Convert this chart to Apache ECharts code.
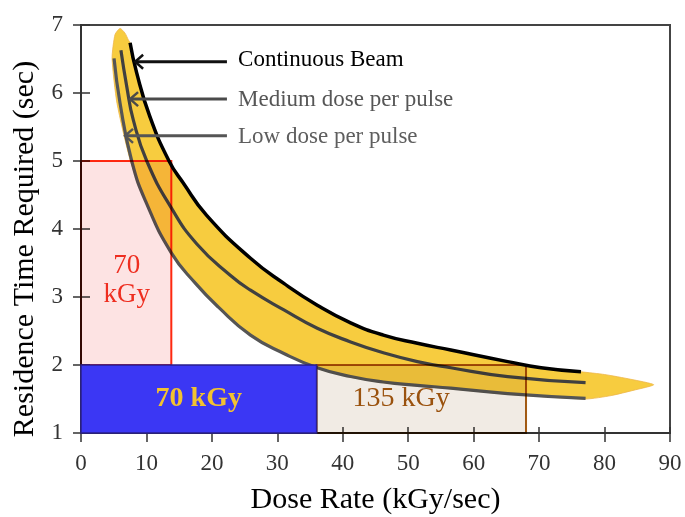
<!DOCTYPE html>
<html><head><meta charset="utf-8">
<script src="https://cdn.jsdelivr.net/npm/echarts@6/dist/echarts.min.js"></script>
<style>html,body{margin:0;padding:0;background:#fff}#c{width:685px;height:517px}</style>
</head><body><div id="c"></div>
<script>
// ---- data ----
const beamX = [7.5, 8.5, 10.5, 13.45, 15.6, 19.2, 25.9, 31.0, 36.1, 41.2, 46.2, 51.4, 56.5, 65.2, 70.3, 76.4];
const beamY = [6.74, 6.30, 5.66, 5.0, 4.68, 4.20, 3.57, 3.20, 2.88, 2.62, 2.44, 2.32, 2.22, 2.05, 1.96, 1.90];

const mediumX = [6.1, 7.0, 8.0, 10.05, 13.8, 17.7, 22.8, 25.9, 31.0, 36.1, 41.2, 46.2, 51.4, 56.5, 65.2, 77.1];
const mediumY = [6.63, 6.09, 5.60, 5.0, 4.31, 3.78, 3.32, 3.10, 2.81, 2.54, 2.34, 2.18, 2.05, 1.96, 1.83, 1.74];

const lowX = [5.05, 5.97, 7.75, 10.0, 13.8, 17.5, 21.0, 25.9, 31.0, 36.1, 41.2, 46.2, 51.4, 56.5, 65.2, 77.1];
const lowY = [6.51, 5.85, 5.0, 4.38, 3.65, 3.2, 2.85, 2.44, 2.17, 1.96, 1.83, 1.75, 1.70, 1.66, 1.58, 1.51];

// yellow envelope (upper and lower edges, left to right, sharing both tips)
const bandUpperX = [5.97, 6.73, 7.24, 7.5, 8.5, 10.5, 13.45, 15.6, 19.2, 25.9, 31.0, 36.1, 41.2, 46.2, 51.4, 56.5, 65.2, 70.3, 76.4, 80.0, 84.0, 87.5];
const bandUpperY = [6.95, 6.88, 6.78, 6.74, 6.30, 5.66, 5.0, 4.68, 4.20, 3.57, 3.20, 2.88, 2.62, 2.44, 2.32, 2.22, 2.05, 1.96, 1.90, 1.86, 1.79, 1.71];
const bandLowerX = [5.97, 5.2, 4.75, 5.5, 7.55, 10.0, 13.8, 17.5, 21.0, 25.9, 31.0, 36.1, 41.2, 46.2, 51.4, 56.5, 65.2, 77.1, 81.0, 84.5, 87.5];
const bandLowerY = [6.95, 6.86, 6.51, 5.85, 5.0, 4.36, 3.64, 3.19, 2.84, 2.43, 2.16, 1.95, 1.82, 1.74, 1.69, 1.65, 1.57, 1.50, 1.55, 1.63, 1.71];

// shaded dose boxes
const boxX0 = [0, 0, 36];
const boxX1 = [13.8, 36, 68];
const boxY0 = [2, 1, 1];
const boxY1 = [5, 2, 2];
const boxLabels = ['70\nkGy', '70 kGy', '135 kGy'];
const boxLabelX = [7.0, 18.0, 48.9];
const boxLabelY = [3.25, 1.5, 1.5];

// arrow annotations
const noteTexts = ['Continuous Beam', 'Medium dose per pulse', 'Low dose per pulse'];
const noteX = [24.0, 24.0, 24.0];
const noteY = [6.48, 5.90, 5.36];
const arrowFromX = [22.3, 22.3, 22.3];
const arrowToX = [8.27, 7.5, 6.73];
const arrowY = [6.46, 5.91, 5.37];

// ---- chart ----
const SERIF = "'Liberation Serif','Times New Roman',serif";
const chart = echarts.init(document.getElementById('c'), null, {renderer: 'canvas'});
const pairs = (xs, ys) => xs.map((x, i) => [x, ys[i]]);

const boxStyles = [
  {fill: '#fde3e3', stroke: '#ff2a10', lineWidth: 2},
  {fill: '#3b37f4', stroke: '#2a1f8c', lineWidth: 1.5},
  {fill: '#f1ebe4', stroke: '#a65c12', lineWidth: 2}
];
const boxLabelStyles = [
  {fill: '#ee2e20', fontSize: 27, fontWeight: 'normal', lineHeight: 29},
  {fill: '#f2c230', fontSize: 28, fontWeight: 'bold', lineHeight: 30},
  {fill: '#9a520e', fontSize: 28, fontWeight: 'normal', lineHeight: 30}
];
const noteColors = ['#000000', '#565656', '#5e5e5e'];
const arrowColors = ['#111111', '#4a4a4a', '#555555'];

function boxSeries(indices, blend, z) {
  const s = {
    type: 'custom', coordinateSystem: 'cartesian2d', z: z, silent: true,
    data: indices.map(i => [boxX0[i], boxX1[i], boxY0[i], boxY1[i], i]),
    renderItem: function (params, api) {
      const i = api.value(4);
      const p0 = api.coord([api.value(0), api.value(3)]);
      const p1 = api.coord([api.value(1), api.value(2)]);
      return {type: 'rect', shape: {x: p0[0], y: p0[1], width: p1[0] - p0[0], height: p1[1] - p0[1]},
        style: Object.assign({}, boxStyles[i])};
    }
  };
  if (blend) s.blendMode = blend;
  return s;
}

const axisCommon = {type: 'value', splitLine: {show: false}};

const option = {
  backgroundColor: '#ffffff',
  animation: false,
  grid: {left: 81, right: 15, top: 25, bottom: 84, show: true, borderColor: '#444', borderWidth: 2,
    containLabel: false, outerBoundsMode: 'none'},
  xAxis: [
    Object.assign({}, axisCommon, {
      min: 0, max: 90, interval: 10, position: 'bottom',
      name: 'Dose Rate (kGy/sec)', nameLocation: 'middle', nameGap: 52,
      nameTextStyle: {fontFamily: SERIF, fontSize: 30, color: '#000'},
      axisLine: {show: true, onZero: false, lineStyle: {color: '#333', width: 2}},
      axisTick: {show: true, length: 9, lineStyle: {color: '#333', width: 1.5}},
      axisLabel: {margin: 19, fontFamily: SERIF, fontSize: 23, color: '#333'}
    }),
    Object.assign({}, axisCommon, {
      min: 0, max: 90, interval: 10, position: 'bottom',
      axisLine: {show: false}, axisLabel: {show: false},
      axisTick: {show: true, inside: true, length: 6, lineStyle: {color: '#333', width: 1.5}}
    })
  ],
  yAxis: [
    Object.assign({}, axisCommon, {
      min: 1, max: 7, interval: 1, position: 'left',
      name: 'Residence Time Required (sec)', nameLocation: 'middle', nameGap: 31, nameRotate: 90,
      nameTextStyle: {fontFamily: SERIF, fontSize: 30, color: '#000', padding: [0, 40, 0, 0]},
      axisLine: {show: true, onZero: false, lineStyle: {color: '#333', width: 2}},
      axisTick: {show: true, length: 8, lineStyle: {color: '#333', width: 1.5}},
      axisLabel: {margin: 18, fontFamily: SERIF, fontSize: 23, color: '#333'}
    }),
    Object.assign({}, axisCommon, {
      min: 1, max: 7, interval: 1, position: 'left',
      axisLine: {show: false}, axisLabel: {show: false},
      axisTick: {show: true, inside: true, length: 9, lineStyle: {color: '#333', width: 1.5}}
    })
  ],
  series: [
    {
      type: 'custom', coordinateSystem: 'cartesian2d', z: 2, silent: true, clip: false,
      data: [0],
      renderItem: function (params, api) {
        const pts = [];
        for (let i = 0; i < bandUpperX.length; i++) pts.push(api.coord([bandUpperX[i], bandUpperY[i]]));
        for (let i = bandLowerX.length - 2; i > 0; i--) pts.push(api.coord([bandLowerX[i], bandLowerY[i]]));
        return {type: 'polygon', shape: {points: pts, smooth: 0.2},
          style: {fill: '#f7cc3f', stroke: '#eeb64a', lineWidth: 0.8}};
      }
    },
    {type: 'line', data: pairs(lowX, lowY), showSymbol: false, smooth: 0.5, z: 3, silent: true,
      lineStyle: {color: '#555555', width: 3.2}},
    {type: 'line', data: pairs(mediumX, mediumY), showSymbol: false, smooth: 0.5, z: 3, silent: true,
      lineStyle: {color: '#404040', width: 3.2}},
    {type: 'line', data: pairs(beamX, beamY), showSymbol: false, smooth: 0.5, z: 3, silent: true,
      lineStyle: {color: '#000000', width: 3.5}},
    boxSeries([0, 2], 'multiply', 4),
    boxSeries([1], null, 5),
    {
      type: 'custom', coordinateSystem: 'cartesian2d', z: 6, silent: true,
      data: boxLabelX.map((x, i) => [x, boxLabelY[i]]),
      renderItem: function (params, api) {
        const i = params.dataIndex;
        const p = api.coord([api.value(0), api.value(1)]);
        const s = boxLabelStyles[i];
        return {type: 'text', x: p[0], y: p[1],
          style: {text: boxLabels[i], fill: s.fill, fontSize: s.fontSize, fontWeight: s.fontWeight,
            fontFamily: SERIF, lineHeight: s.lineHeight, align: 'center', verticalAlign: 'middle'}};
      }
    },
    {
      type: 'custom', coordinateSystem: 'cartesian2d', z: 6, silent: true,
      data: noteX.map((x, i) => [x, noteY[i], arrowFromX[i], arrowToX[i], arrowY[i]]),
      renderItem: function (params, api) {
        const i = params.dataIndex;
        const t = api.coord([api.value(0), api.value(1)]);
        const a0 = api.coord([api.value(2), api.value(4)]);
        const a1 = api.coord([api.value(3), api.value(4)]);
        const col = arrowColors[i];
        return {type: 'group', children: [
          {type: 'text', x: t[0], y: t[1],
            style: {text: noteTexts[i], fill: noteColors[i], fontSize: 23, fontFamily: SERIF,
              align: 'left', verticalAlign: 'middle'}},
          {type: 'line', shape: {x1: a0[0], y1: a0[1], x2: a1[0] + 1, y2: a1[1]},
            style: {stroke: col, lineWidth: 3}},
          {type: 'polyline', shape: {points: [[a1[0] + 8, a1[1] - 7], [a1[0], a1[1]], [a1[0] + 8, a1[1] + 7]]},
            style: {stroke: col, lineWidth: 2.5, fill: null}}
        ]};
      }
    }
  ]
};
chart.setOption(option);
</script>
</body></html>
